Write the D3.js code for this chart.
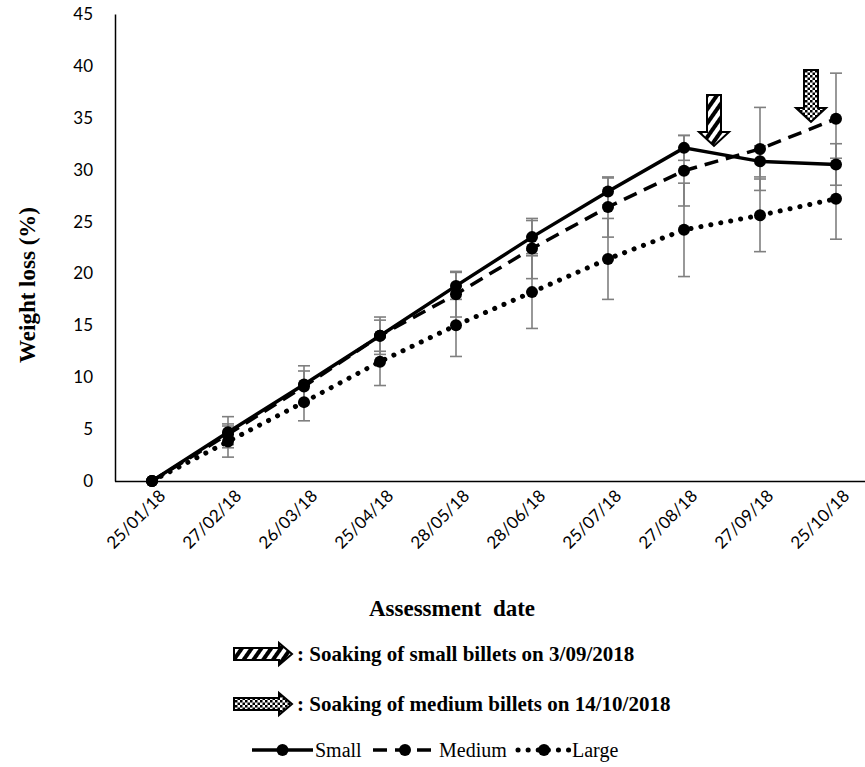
<!DOCTYPE html>
<html lang="en">
  <head>
    <meta charset="UTF-8" />
    <title>weight loss</title>
    <script src="https://d3js.org/d3.v7.min.js"></script>
    <style>
      body { margin: 0; background: #fff; }
      .tick-label { font: 16px Lato, 'Open Sans', sans-serif; fill: #000; }
      .title { font-family: 'Liberation Serif', 'Times New Roman', serif; font-weight: bold; fill: #000; }
      .legend { font-family: 'Liberation Serif', 'Times New Roman', serif; fill: #000; }
    </style>
  </head>
  <body>
    <svg width="865" height="767"></svg>
  </body>

  <script>
    // data
    var dates = ['25/01/18', '27/02/18', '26/03/18', '25/04/18', '28/05/18', '28/06/18', '25/07/18', '27/08/18', '27/09/18', '25/10/18']
    var small = [0, 4.7, 9.3, 14.0, 18.8, 23.5, 27.9, 32.1, 30.8, 30.5]
    var medium = [0, 4.5, 9.1, 14.0, 18.0, 22.4, 26.4, 29.9, 32.0, 34.9]
    var large = [0, 3.8, 7.6, 11.5, 15.0, 18.2, 21.4, 24.2, 25.6, 27.2]
    var smallErr = [0, 1.5, 1.8, 1.8, 1.3, 1.6, 1.3, 1.2, 1.5, 2.0]
    var mediumErr = [0, 1.0, 1.5, 1.5, 2.2, 2.9, 2.9, 3.4, 4.0, 4.4]
    var largeErr = [0, 1.5, 1.8, 2.3, 3.0, 3.5, 3.9, 4.5, 3.5, 3.9]
    var yTicks = [0, 5, 10, 15, 20, 25, 30, 35, 40, 45]
    var seriesNames = ['Small', 'Medium', 'Large']
    var notes = [': Soaking of small billets on 3/09/2018', ': Soaking of medium billets on 14/10/2018']

    var svg = d3.select('svg')

    var x = d3.scalePoint().domain(dates).range([114, 874]).padding(0.5)
    var y = d3.scaleLinear().domain([0, 45]).range([481, 14])

    var series = [
      { name: seriesNames[0], values: small, err: smallErr, dash: null, cap: 'butt', w: 3.5 },
      { name: seriesNames[1], values: medium, err: mediumErr, dash: '14,8', cap: 'butt', w: 3.5 },
      { name: seriesNames[2], values: large, err: largeErr, dash: '0.1,10', cap: 'round', w: 5 },
    ]

    // patterns for the arrows
    var defs = svg.append('defs')
    var stripe = defs.append('pattern').attr('id', 'stripes').attr('patternUnits', 'userSpaceOnUse')
      .attr('width', 8).attr('height', 8).attr('patternTransform', 'rotate(35)')
    stripe.append('rect').attr('width', 8).attr('height', 8).attr('fill', '#fff')
    stripe.append('rect').attr('width', 4).attr('height', 8).attr('fill', '#000')

    var check = defs.append('pattern').attr('id', 'checks').attr('patternUnits', 'userSpaceOnUse')
      .attr('width', 5).attr('height', 5)
    check.append('rect').attr('width', 5).attr('height', 5).attr('fill', '#fff')
    check.append('rect').attr('width', 2.5).attr('height', 2.5).attr('fill', '#000')
    check.append('rect').attr('x', 2.5).attr('y', 2.5).attr('width', 2.5).attr('height', 2.5).attr('fill', '#000')

    // axes
    var yAxis = svg.append('g').attr('transform', 'translate(115,0)')
      .call(d3.axisLeft(y).tickValues(yTicks).tickSize(0).tickPadding(22))
    yAxis.select('.domain').attr('stroke', '#000').attr('stroke-width', 1.5)
    yAxis.selectAll('text').attr('class', 'tick-label').style('font-size', '17px')

    var xAxis = svg.append('g').attr('transform', 'translate(0,481)')
      .call(d3.axisBottom(x).tickSize(0).tickPadding(0))
    xAxis.select('.domain').attr('d', 'M115,0.5H865').attr('stroke', '#000').attr('stroke-width', 1.5)
    xAxis.selectAll('text')
      .attr('class', 'tick-label')
      .style('font-size', '17px')
      .attr('text-anchor', 'end')
      .attr('dy', 0)
      .attr('transform', 'translate(14,16) rotate(-45)')

    // titles
    svg.append('text').attr('class', 'title')
      .attr('transform', 'translate(35,285) rotate(-90)')
      .attr('text-anchor', 'middle')
      .style('font-size', '23px')
      .text('Weight loss (%)')

    svg.append('text').attr('class', 'title')
      .attr('x', 452).attr('y', 616)
      .attr('text-anchor', 'middle')
      .style('font-size', '23px')
      .style('white-space', 'pre')
      .text('Assessment  date')

    // error bars
    var eb = svg.append('g').attr('stroke', '#7f7f7f').attr('stroke-width', 1.6)
    series.forEach(function (s) {
      s.values.forEach(function (v, i) {
        if (!s.err[i]) return
        var cx = x(dates[i])
        var y1 = y(v + s.err[i]), y2 = y(v - s.err[i])
        eb.append('line').attr('x1', cx).attr('x2', cx).attr('y1', y1).attr('y2', y2)
        eb.append('line').attr('x1', cx - 6).attr('x2', cx + 6).attr('y1', y1).attr('y2', y1)
        eb.append('line').attr('x1', cx - 6).attr('x2', cx + 6).attr('y1', y2).attr('y2', y2)
      })
    })

    // lines
    var line = d3.line()
      .x(function (d, i) { return x(dates[i]) })
      .y(function (d) { return y(d) })

    series.forEach(function (s) {
      svg.append('path')
        .attr('d', line(s.values))
        .attr('fill', 'none')
        .attr('stroke', '#000')
        .attr('stroke-width', s.w)
        .attr('stroke-linecap', s.cap)
        .attr('stroke-dasharray', s.dash)
      svg.append('g').selectAll('circle')
        .data(s.values)
        .enter()
        .append('circle')
        .attr('cx', function (d, i) { return x(dates[i]) })
        .attr('cy', function (d) { return y(d) })
        .attr('r', 6)
        .attr('fill', '#000')
    })

    // arrows
    function downArrow(cx, top, tip) {
      var sw = 7, hw = 15, hl = 14
      return 'M' + (cx - sw) + ',' + top + 'H' + (cx + sw) + 'V' + (tip - hl) + 'H' + (cx + hw) +
        'L' + cx + ',' + tip + 'L' + (cx - hw) + ',' + (tip - hl) + 'H' + (cx - sw) + 'Z'
    }
    function rightArrow(left, cy, tip) {
      var sw = 6, hw = 11, hl = 13
      return 'M' + left + ',' + (cy - sw) + 'H' + (tip - hl) + 'V' + (cy - hw) + 'L' + tip + ',' + cy +
        'L' + (tip - hl) + ',' + (cy + hw) + 'V' + (cy + sw) + 'H' + left + 'Z'
    }

    var x1 = x(dates[7]) + 30
    var x2 = x(dates[9]) - 25
    svg.append('path').attr('d', downArrow(x1, 95, 146))
      .attr('fill', 'url(#stripes)').attr('stroke', '#000').attr('stroke-width', 2)
    svg.append('path').attr('d', downArrow(x2, 70, 122))
      .attr('fill', 'url(#checks)').attr('stroke', '#000').attr('stroke-width', 2)

    // notes
    var noteFills = ['url(#stripes)', 'url(#checks)']
    var noteY = [654, 704]
    notes.forEach(function (t, i) {
      svg.append('path').attr('d', rightArrow(234, noteY[i], 292))
        .attr('fill', noteFills[i]).attr('stroke', '#000').attr('stroke-width', 2)
      svg.append('text').attr('class', 'title')
        .attr('x', 297).attr('y', noteY[i] + 7)
        .style('font-size', '21px')
        .text(t)
    })

    // series legend
    var legY = 750
    var legX = [252, 373, 518]
    var legW = [61, 64, 52]
    series.forEach(function (s, i) {
      var g = svg.append('g')
      g.append('line')
        .attr('x1', legX[i]).attr('x2', legX[i] + legW[i])
        .attr('y1', legY).attr('y2', legY)
        .attr('stroke', '#000')
        .attr('stroke-width', s.w)
        .attr('stroke-linecap', s.cap)
        .attr('stroke-dasharray', s.dash)
      g.append('circle').attr('cx', legX[i] + legW[i] / 2).attr('cy', legY).attr('r', 6).attr('fill', '#000')
      g.append('text').attr('class', 'legend')
        .attr('x', legX[i] + legW[i] + 2).attr('y', legY + 7)
        .style('font-size', '20px')
        .text(s.name)
    })
  </script>
</html>
